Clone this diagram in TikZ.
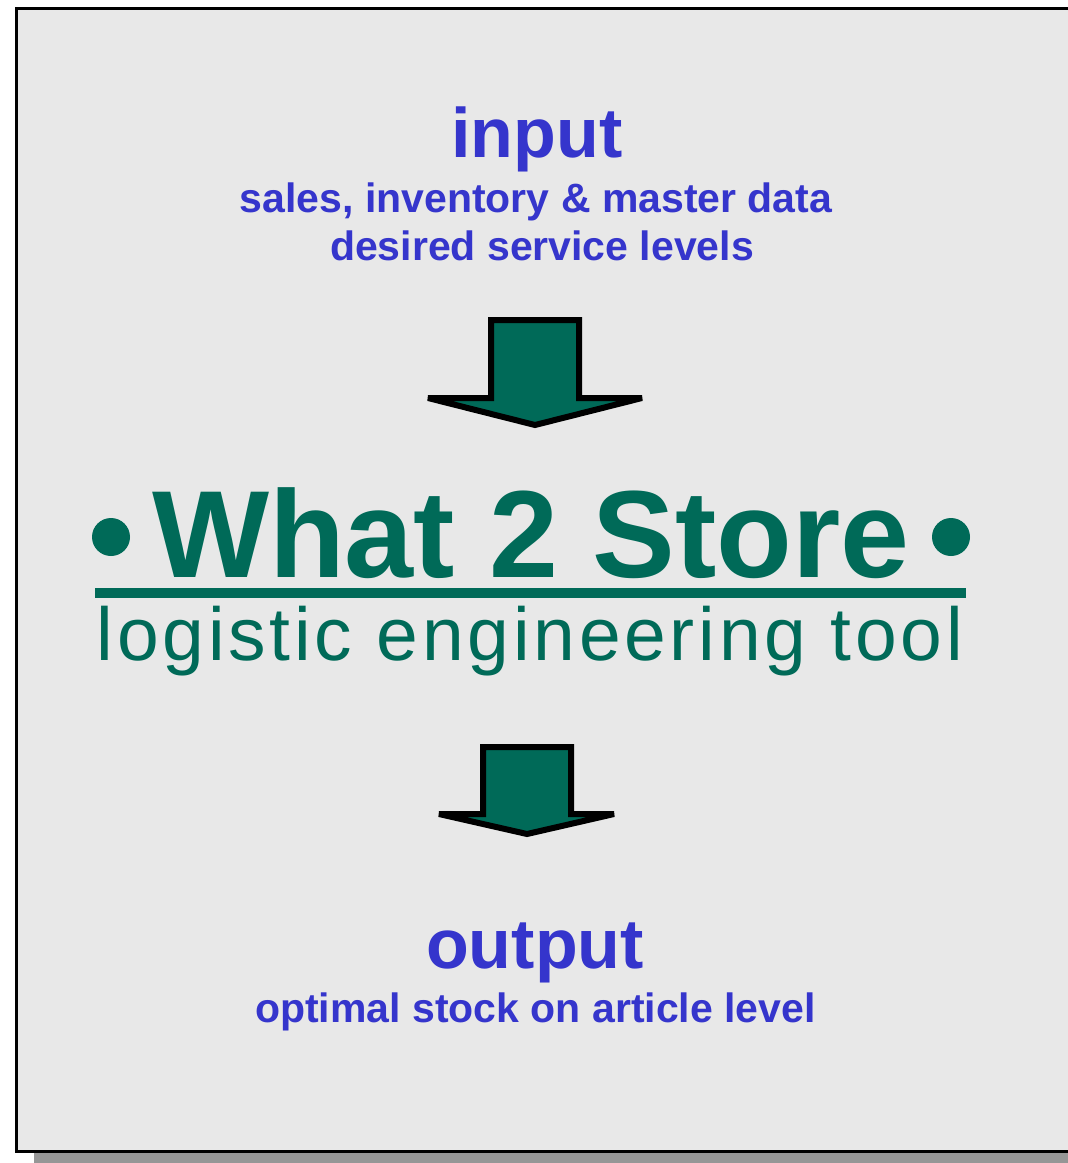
\documentclass[tikz,border=0pt]{standalone}
\usepackage{fontspec}
\setmainfont{Liberation Sans}
\definecolor{boxfill}{HTML}{E8E8E8}
\definecolor{shadowgrey}{HTML}{969696}
\definecolor{titleblue}{HTML}{3535CC}
\definecolor{toolgreen}{HTML}{006A58}
\tikzset{
  heading/.style={anchor=base, text=titleblue, font=\fontsize{70}{84}\selectfont\bfseries, inner sep=0pt},
  subline/.style={anchor=base, text=titleblue, font=\fontsize{41}{49}\selectfont\bfseries, inner sep=0pt},
  blockarrow/.style={fill=toolgreen, draw=black, line width=6pt, line join=miter, miter limit=3},
  dotmark/.style={fill=toolgreen, draw=none}
}
\begin{document}
\begin{tikzpicture}[x=1pt,y=-1pt]
\useasboundingbox (0,0) rectangle (1068,1163);
\begin{scope}
\clip (0,0) rectangle (1068,1163);
% shadow
\fill[shadowgrey] (34,24) rectangle (1100,1170);
% main box
\draw[line width=3pt, fill=boxfill] (16.5,8.5) rectangle (1090,1151.5);
\end{scope}

% input
\node[heading] (inp) at (537,157) {input};
\node[subline] (inp1) at (536,212) {sales, inventory \& master data};
\node[subline] (inp2) at (542,260) {desired service levels};

% arrow 1
\draw[blockarrow] (491,320) -- (579,320) -- (579,398) -- (642,398) -- (535,425) -- (428,398) -- (491,398) -- cycle;

% title
\node[anchor=base, text=toolgreen, font=\fontsize{124}{140}\selectfont\bfseries, inner sep=0pt] (title) at (531,577) {What 2 Store};
\fill[dotmark] (111,537) circle (19);
\fill[dotmark] (951,537) circle (19);
\fill[toolgreen] (95,588) rectangle (966,598);
\node[anchor=base, text=toolgreen, font=\fontsize{75}{90}\selectfont\addfontfeatures{LetterSpace=5.0}, inner sep=0pt] (sub) at (530,660) {logistic engineering tool};

% arrow 2
\draw[blockarrow] (483,747) -- (571,747) -- (571,814) -- (614,814) -- (527,834) -- (439,814) -- (483,814) -- cycle;

% output
\node[heading] (outp) at (535,968) {output};
\node[subline] (outp1) at (535.5,1022) {optimal stock on article level};
\end{tikzpicture}
\end{document}
